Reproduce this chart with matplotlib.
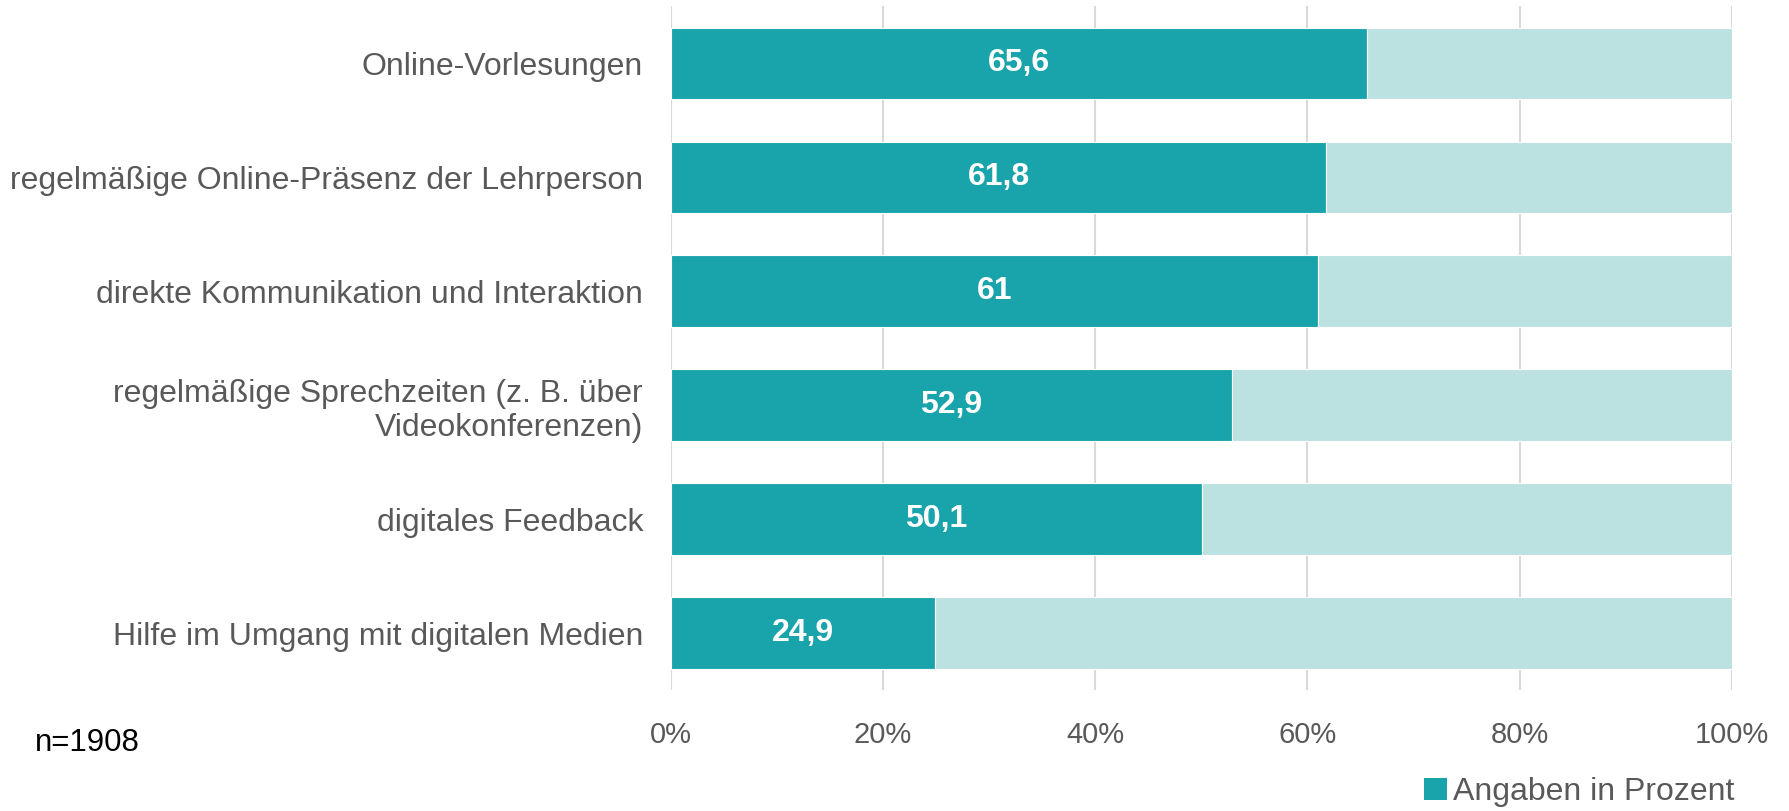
import matplotlib.pyplot as plt
from matplotlib.patches import Patch

plt.rcParams['font.family'] = ['Liberation Sans', 'DejaVu Sans']

categories = [
    "Online-Vorlesungen",
    "regelmäßige Online-Präsenz der Lehrperson",
    "direkte Kommunikation und Interaktion",
    "regelmäßige Sprechzeiten (z. B. über\nVideokonferenzen)",
    "digitales Feedback",
    "Hilfe im Umgang mit digitalen Medien",
]
values = [65.6, 61.8, 61, 52.9, 50.1, 24.9]
value_labels = ["65,6", "61,8", "61", "52,9", "50,1", "24,9"]
ticks = [0, 20, 40, 60, 80, 100]
tick_labels = ["0%", "20%", "40%", "60%", "80%", "100%"]

dark = "#19A3AA"
light = "#BCE1E1"
grey = "#595959"

fig = plt.figure(figsize=(17.89, 8.11), dpi=100)
ax = fig.add_axes([0.375, 0.149, 0.593, 0.843])

y = list(range(len(categories)))
rest = [100 - v for v in values]
ax.barh(y, values, height=0.63, color=dark, edgecolor="white", linewidth=0.8, zorder=3)
ax.barh(y, rest, left=values, height=0.63, color=light, edgecolor="white", linewidth=0.8, zorder=3)

for yi, v, lab in zip(y, values, value_labels):
    ax.text(v / 2, yi, lab, ha="center", va="center", color="white",
            fontsize=23, fontweight="bold", zorder=4)

ax.set_xlim(0, 100)
ax.set_ylim(5.5, -0.5)
ax.set_xticks(ticks)
ax.set_xticklabels(tick_labels, fontsize=21, color=grey)
ax.set_yticks(y)
ax.set_yticklabels(categories, fontsize=23, color=grey, ha="right")
ax.tick_params(axis="both", length=0)
ax.tick_params(axis="x", pad=22)
ax.tick_params(axis="y", pad=20)
ax.grid(axis="x", color="#D9D9D9", linewidth=1.5, zorder=0)
for s in ax.spines.values():
    s.set_visible(False)

fig.text(35 / 1789, 1 - 743 / 811, "n=1908", fontsize=22.5, color="black", va="center")

handles = [Patch(facecolor=dark, label="Angaben in Prozent")]
fig.legend(handles=handles, loc="center right", bbox_to_anchor=(0.982, 1 - 792 / 811),
           frameon=False, fontsize=23, labelcolor=grey, handlelength=0.7,
           handleheight=0.7, handletextpad=0.2, borderpad=0.2)

fig.savefig("out.png", dpi=100)
